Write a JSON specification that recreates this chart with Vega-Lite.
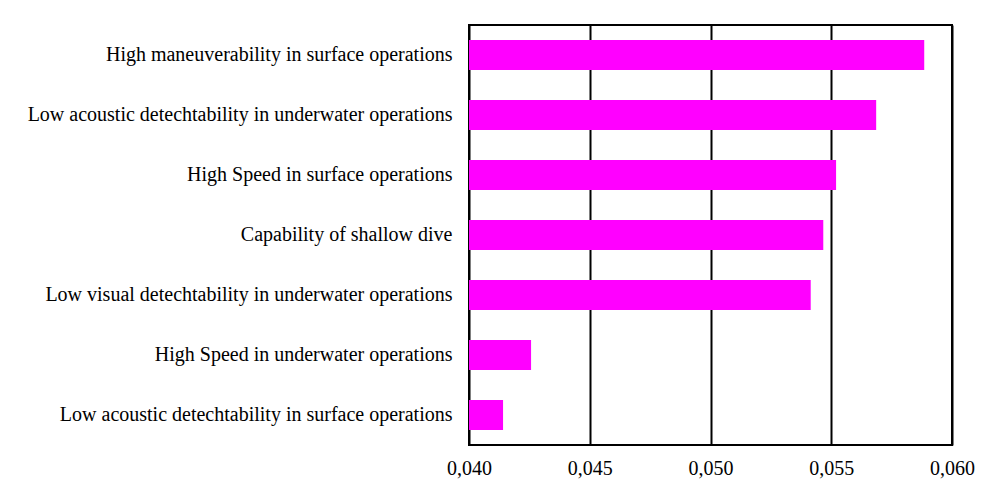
{
  "$schema": "https://vega.github.io/schema/vega-lite/v6.json",
  "width": 483,
  "height": 420,
  "padding": {"left": 27, "top": 25, "right": 5, "bottom": 5},
  "background": "#ffffff",
  "data": {
    "values": [
      {"criterion": "High maneuverability in surface operations", "value": 0.05885},
      {"criterion": "Low acoustic detechtability in underwater operations", "value": 0.05686},
      {"criterion": "High Speed in surface operations", "value": 0.05520},
      {"criterion": "Capability of shallow dive", "value": 0.05467},
      {"criterion": "Low visual detechtability in underwater operations", "value": 0.05415},
      {"criterion": "High Speed in underwater operations", "value": 0.04257},
      {"criterion": "Low acoustic detechtability in surface operations", "value": 0.04141}
    ]
  },
  "mark": {"type": "bar", "color": "#ff00ff"},
  "encoding": {
    "y": {
      "field": "criterion",
      "type": "nominal",
      "sort": null,
      "scale": {"paddingInner": 0.5, "paddingOuter": 0.25},
      "axis": {
        "title": null,
        "ticks": false,
        "tickSize": 0,
        "domain": false,
        "labelPadding": 17,
        "labelFont": "Liberation Serif",
        "labelFontSize": 20,
        "labelColor": "#000000",
        "labelLimit": 1000
      }
    },
    "x": {
      "field": "value",
      "type": "quantitative",
      "scale": {"domain": [0.04, 0.06], "zero": false, "nice": false},
      "axis": {
        "title": null,
        "values": [0.04, 0.045, 0.05, 0.055, 0.06],
        "format": ".3f",
        "ticks": false,
        "tickSize": 0,
        "domain": false,
        "grid": true,
        "gridColor": "#000000",
        "gridWidth": 2,
        "gridOpacity": 1,
        "labelPadding": 13,
        "labelFont": "Liberation Serif",
        "labelFontSize": 20,
        "labelColor": "#000000",
        "labelFlush": false
      }
    },
    "x2": {"datum": 0.04}
  },
  "config": {
    "locale": {
      "number": {"decimal": ",", "thousands": ".", "grouping": [3], "currency": ["", " €"]}
    },
    "view": {"stroke": "#000000", "strokeWidth": 2}
  }
}
